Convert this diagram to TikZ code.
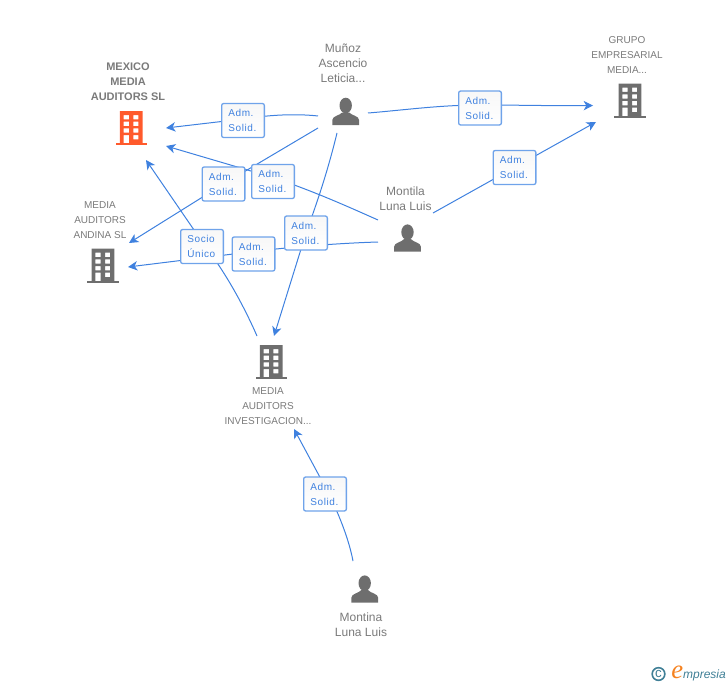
\documentclass[tikz,border=0pt]{standalone}
\usepackage{fontspec}
\setmainfont{Liberation Sans}
\newfontfamily\tagfont[LetterSpace=6]{Liberation Sans}
\newfontfamily\markfont{Liberation Serif}
\usetikzlibrary{arrows.meta,backgrounds}
\definecolor{iconGray}{HTML}{6E6E6E}
\definecolor{iconRed}{HTML}{FF5A2C}
\definecolor{textGray}{HTML}{7A7A7A}
\definecolor{linkBlue}{HTML}{3F81DF}
\definecolor{tagBorder}{HTML}{6FA3EA}
\definecolor{markTeal}{HTML}{3F7F96}
\definecolor{markOrange}{HTML}{F58220}
\tikzset{
  link/.style={linkBlue,line width=.75pt},
  tolink/.style={link,-{Stealth[length=7pt,width=7pt,inset=2pt]}},
  tag/.style={draw=tagBorder,line width=1pt,rounded corners=1.5pt,top color=black!3,bottom color=white,
    text=linkBlue,font=\tagfont\fontsize{7.5}{11.25}\selectfont,text width=22pt,align=left,inner xsep=5pt,inner ysep=3.5pt,
    minimum height=25.5pt},
  companytext/.style={text=textGray,font=\fontsize{7.5}{11.25}\selectfont,align=center,inner sep=0pt},
  persontext/.style={text=textGray,font=\fontsize{9}{11.25}\selectfont,align=center,inner sep=0pt},
  pics/building/.style={code={
    \fill[#1] (-15.6,-2) rectangle (15.6,0);
    \fill[#1,even odd rule] (-11.4,-34) rectangle (11.4,-1)
      (-7.6,-30) rectangle (-2.3,-25.7) (2,-30) rectangle (7,-25.7)
      (-7.6,-23.3) rectangle (-2.3,-19) (2,-23.3) rectangle (7,-19)
      (-7.6,-16.7) rectangle (-2.3,-12.3) (2,-16.7) rectangle (7,-12.3)
      (-7.6,-10) rectangle (-2.3,-1) (2,-10) rectangle (7,-5.7);
  }},
  pics/person/.style={code={
    \fill[iconGray] (0,-19.5) ellipse (6.2 and 7.8);
    \fill[iconGray] (-13.4,0) -- (-13.4,-5) .. controls (-13.4,-9) and (-6,-9.5) .. (-3.5,-12.5)
      -- (3.5,-12.5) .. controls (6,-9.5) and (13.4,-9) .. (13.4,-5) -- (13.4,0) -- cycle;
  }}
}
\begin{document}
\begin{tikzpicture}[x=.75pt,y=-.75pt]
\useasboundingbox (0,0) rectangle (728,685);

\pic at (131.3,145) {building=iconRed};
\node[companytext,font=\bfseries\fontsize{8.25}{11.25}\selectfont] (mexicotext) at (128,82) {MEXICO\\MEDIA\\AUDITORS SL};
\pic at (103,282.7) {building=iconGray};
\node[companytext] (andinatext) at (100,220) {MEDIA\\AUDITORS\\ANDINA SL};
\pic at (630,117.7) {building=iconGray};
\node[companytext] (grupotext) at (627,55) {GRUPO\\EMPRESARIAL\\MEDIA...};
\pic at (271.3,379) {building=iconGray};
\node[companytext] (investigaciontext) at (268,406) {MEDIA\\AUDITORS\\INVESTIGACION...};

\pic at (345.7,125) {person};
\node[persontext] (munoztext) at (343,63.5) {Muñoz\\Ascencio\\Leticia...};
\pic at (407.5,251.7) {person};
\node[persontext] (montilatext) at (405.5,198.5) {Montila\\Luna Luis};
\pic at (364.7,602.7) {person};
\node[persontext] (montinatext) at (361,624.5) {Montina\\Luna Luis};

\node[tag] (tagmexico) at (243,120.5) {Adm.\\Solid.};
\node[tag] (tagandina) at (223.5,184) {Adm.\\Solid.};
\node[tag] (tagmontila) at (273,181.5) {Adm.\\Solid.};
\node[tag] (tagsocio) at (202,246.5) {Socio\\Único};
\node[tag] (tagluna) at (253.5,254) {Adm.\\Solid.};
\node[tag] (taginvest) at (306,233) {Adm.\\Solid.};
\node[tag] (taggrupo) at (480,108) {Adm.\\Solid.};
\node[tag] (tagmedia) at (514.5,167.5) {Adm.\\Solid.};
\node[tag] (tagmontina) at (325,494) {Adm.\\Solid.};

\coordinate (munozA) at (318,116);
\coordinate (munozB) at (318,128);
\coordinate (munozC) at (337,133);
\coordinate (munozD) at (368,113);
\coordinate (montilaA) at (378,220);
\coordinate (montilaB) at (378,242);
\coordinate (montilaC) at (433,213);
\coordinate (montinaA) at (353,561);
\coordinate (investA) at (257,336);
\coordinate (mexicoA) at (166,128);
\coordinate (mexicoB) at (166,146);
\coordinate (mexicoC) at (146,160);
\coordinate (andinaA) at (129,243);
\coordinate (andinaB) at (128,267);
\coordinate (grupoA) at (593,105.5);
\coordinate (grupoB) at (596,122);
\coordinate (investB) at (274,336);
\coordinate (investC) at (294,429);
\coordinate (viamexico) at (243,119);
\coordinate (viagrupo) at (480,105);
\coordinate (viamontila) at (273,177.5);
\coordinate (vialuna) at (253.5,251.5);
\coordinate (viasocio) at (205,246);
\coordinate (viamontina) at (329,494);

\begin{scope}[on background layer]
\draw[tolink] (munozA) .. controls (300,114) and (275,114) .. (viamexico) -- (mexicoA);
\draw[tolink] (munozB) -- (tagandina.center) -- (andinaA);
\draw[tolink] (munozC) .. controls (328,170) and (318,200) .. (taginvest.center) -- (investB);
\draw[tolink] (munozD) .. controls (405,110) and (440,105) .. (viagrupo) .. controls (520,105) and (555,106) .. (grupoA);
\draw[tolink] (montilaA) .. controls (340,203) and (310,190) .. (viamontila) -- (mexicoB);
\draw[tolink] (montilaB) .. controls (345,243) and (300,246) .. (vialuna) -- (andinaB);
\draw[tolink] (investA) .. controls (243,304) and (225,272) .. (viasocio) -- (mexicoC);
\draw[tolink] (montilaC) -- (tagmedia.center) -- (grupoB);
\draw[tolink] (montinaA) .. controls (349,540) and (340,517) .. (viamontina) -- (investC);
\end{scope}

\node[text=markTeal,font=\fontsize{10}{10}\selectfont,draw=markTeal,circle,line width=1.2pt,inner sep=0pt,minimum size=9.5pt] (markc) at (658.5,674) {c};
\node[anchor=base west,inner sep=0pt,text=markTeal,font=\itshape\fontsize{9}{10}\selectfont] (markname) at (671,678) {{\markfont\color{markOrange}\fontsize{20}{20}\selectfont e}mpresia};
\end{tikzpicture}
\end{document}
